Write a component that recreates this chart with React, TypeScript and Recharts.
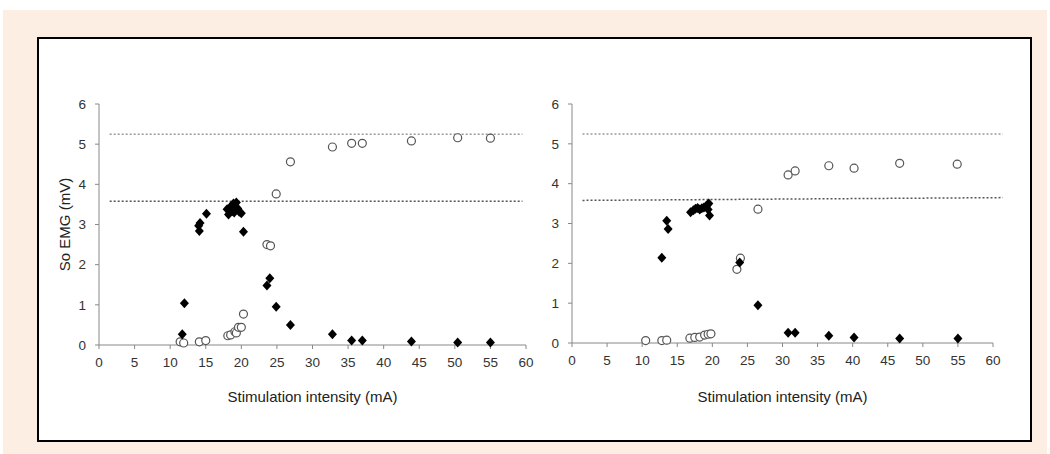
import { ScatterChart, Scatter, XAxis, YAxis, ReferenceLine } from 'recharts'

// left panel
const leftFilled = [
  { x: 11.7, y: 0.27 }, { x: 12.0, y: 1.04 }, { x: 14.0, y: 2.97 }, { x: 14.2, y: 3.04 },
  { x: 14.1, y: 2.84 }, { x: 15.1, y: 3.27 }, { x: 18.0, y: 3.38 }, { x: 18.2, y: 3.25 },
  { x: 18.5, y: 3.45 }, { x: 18.7, y: 3.33 }, { x: 18.9, y: 3.52 }, { x: 19.1, y: 3.42 },
  { x: 19.3, y: 3.55 }, { x: 19.0, y: 3.3 }, { x: 19.5, y: 3.4 }, { x: 19.7, y: 3.32 },
  { x: 20.0, y: 3.28 }, { x: 20.3, y: 2.82 }, { x: 23.6, y: 1.48 }, { x: 24.0, y: 1.66 },
  { x: 24.9, y: 0.95 }, { x: 26.9, y: 0.5 }, { x: 32.8, y: 0.27 }, { x: 35.5, y: 0.11 },
  { x: 37.0, y: 0.11 }, { x: 43.9, y: 0.09 }, { x: 50.4, y: 0.06 }, { x: 55.0, y: 0.06 },
]
const leftOpen = [
  { x: 11.4, y: 0.08 }, { x: 11.9, y: 0.05 }, { x: 14.1, y: 0.08 }, { x: 15.0, y: 0.11 },
  { x: 18.1, y: 0.23 }, { x: 18.5, y: 0.25 }, { x: 19.1, y: 0.33 }, { x: 19.3, y: 0.3 },
  { x: 19.6, y: 0.44 }, { x: 20.0, y: 0.44 }, { x: 20.3, y: 0.77 }, { x: 23.6, y: 2.5 },
  { x: 24.1, y: 2.47 }, { x: 24.9, y: 3.76 }, { x: 26.9, y: 4.56 }, { x: 32.8, y: 4.93 },
  { x: 35.5, y: 5.02 }, { x: 37.0, y: 5.02 }, { x: 43.9, y: 5.08 }, { x: 50.4, y: 5.16 },
  { x: 55.0, y: 5.15 },
]

// right panel
const rightFilled = [
  { x: 12.8, y: 2.14 }, { x: 13.5, y: 3.07 }, { x: 13.7, y: 2.86 }, { x: 16.9, y: 3.28 },
  { x: 17.3, y: 3.33 }, { x: 17.6, y: 3.37 }, { x: 17.9, y: 3.39 }, { x: 18.2, y: 3.35 },
  { x: 18.5, y: 3.38 }, { x: 18.8, y: 3.4 }, { x: 19.1, y: 3.43 }, { x: 19.3, y: 3.47 },
  { x: 19.5, y: 3.5 }, { x: 19.4, y: 3.35 }, { x: 19.6, y: 3.2 }, { x: 23.9, y: 2.02 },
  { x: 26.5, y: 0.95 }, { x: 30.8, y: 0.26 }, { x: 31.8, y: 0.26 }, { x: 36.6, y: 0.18 },
  { x: 40.2, y: 0.14 }, { x: 46.7, y: 0.11 }, { x: 55.0, y: 0.11 },
]
const rightOpen = [
  { x: 10.5, y: 0.06 }, { x: 12.8, y: 0.06 }, { x: 13.5, y: 0.07 }, { x: 16.8, y: 0.12 },
  { x: 17.5, y: 0.14 }, { x: 18.2, y: 0.15 }, { x: 18.9, y: 0.2 }, { x: 19.4, y: 0.22 },
  { x: 19.8, y: 0.23 }, { x: 23.5, y: 1.85 }, { x: 24.0, y: 2.13 }, { x: 26.5, y: 3.36 },
  { x: 30.8, y: 4.22 }, { x: 31.8, y: 4.32 }, { x: 36.6, y: 4.45 }, { x: 40.2, y: 4.39 },
  { x: 46.7, y: 4.51 }, { x: 54.9, y: 4.49 },
]

const xTicks = [0, 5, 10, 15, 20, 25, 30, 35, 40, 45, 50, 55, 60]
const yTicks = [0, 1, 2, 3, 4, 5, 6]

const upperLevel = 5.25
const lowerLevel = 3.58
const lowerLevelRightEnd = 3.65

const axisColor = '#888'
const tickStyle = { fill: '#333', fontSize: 13.5, fontFamily: 'Liberation Sans, Arial, sans-serif' }
const labelStyle = { fill: '#222', fontSize: 15, fontFamily: 'Liberation Sans, Arial, sans-serif' }

const Diamond = (props: any) => {
  const { cx, cy } = props
  return <path d={`M${cx},${cy - 5}L${cx + 4.5},${cy}L${cx},${cy + 5}L${cx - 4.5},${cy}Z`} fill="#000" />
}

const Ring = (props: any) => {
  const { cx, cy } = props
  return <circle cx={cx} cy={cy} r={4} fill="#fff" stroke="#555" strokeWidth={1.2} />
}

interface PanelProps {
  filled: Array<{ x: number; y: number }>
  open: Array<{ x: number; y: number }>
  width: number
  yAxisWidth: number
  right: number
  xAxisHeight: number
  showYLabel?: boolean
  lowerEnd: number
  lineEnd: number
}

function Panel({ filled, open, width, yAxisWidth, right, xAxisHeight, showYLabel, lowerEnd, lineEnd }: PanelProps) {
  return (
    <ScatterChart width={width} height={330} margin={{ top: 14, right, bottom: 0, left: 0 }}>
      <XAxis
        type="number"
        dataKey="x"
        domain={[0, 60]}
        ticks={xTicks}
        interval={0}
        height={xAxisHeight}
        tickSize={4}
        tickMargin={8}
        stroke={axisColor}
        tick={tickStyle}
        label={{ value: 'Stimulation intensity (mA)', position: 'insideBottom', offset: 18, style: labelStyle }}
      />
      <YAxis
        type="number"
        dataKey="y"
        domain={[0, 6]}
        ticks={yTicks}
        interval={0}
        width={yAxisWidth}
        tickSize={4}
        tickMargin={9}
        stroke={axisColor}
        tick={tickStyle}
        label={showYLabel ? { value: 'So EMG (mV)', angle: -90, position: 'insideLeft', offset: 25, style: { ...labelStyle, textAnchor: 'middle' } } : undefined}
      />
      <ReferenceLine
        segment={[{ x: 1.5, y: upperLevel }, { x: lineEnd, y: upperLevel }]}
        stroke="#999"
        strokeWidth={1.5}
        strokeDasharray="2 2"
        ifOverflow="visible"
      />
      <ReferenceLine
        segment={[{ x: 1.5, y: lowerLevel }, { x: lineEnd, y: lowerEnd }]}
        stroke="#555"
        strokeWidth={1.5}
        strokeDasharray="2 2"
        ifOverflow="visible"
      />
      <Scatter data={open} shape={Ring} isAnimationActive={false} />
      <Scatter data={filled} shape={Diamond} isAnimationActive={false} />
    </ScatterChart>
  )
}

export default function App() {
  return (
    <div style={{ position: 'fixed', left: 0, top: 0, width: 1050, height: 454, background: '#fff' }}>
      <div style={{ position: 'absolute', left: 3, top: 10, width: 1044, height: 444, background: '#fdeee4' }} />
      <div
        style={{
          position: 'absolute',
          left: 37,
          top: 37,
          width: 991,
          height: 401,
          background: '#fff',
          border: '2px solid #000',
        }}
      />
      <div style={{ position: 'absolute', left: 40, top: 90 }}>
        <Panel
          filled={leftFilled}
          open={leftOpen}
          width={500}
          yAxisWidth={59}
          right={14}
          xAxisHeight={75}
          showYLabel
          lowerEnd={lowerLevel}
          lineEnd={59.5}
        />
      </div>
      <div style={{ position: 'absolute', left: 520, top: 90 }}>
        <Panel
          filled={rightFilled}
          open={rightOpen}
          width={490}
          yAxisWidth={52}
          right={17}
          xAxisHeight={77}
          lowerEnd={lowerLevelRightEnd}
          lineEnd={61.4}
        />
      </div>
    </div>
  )
}
